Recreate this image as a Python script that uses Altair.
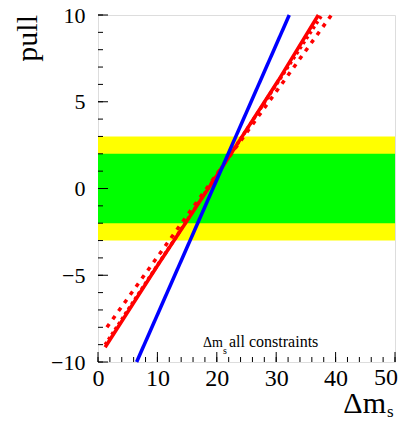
import altair as alt
import pandas as pd

# ---- data ----
blue_x = [6.5, 32.2]
blue_y = [-10.0, 10.0]

red_solid_x = [1.2, 10.0, 20.8, 30.4, 37.1]
red_solid_y = [-9.15, -4.45, 1.16, 6.25, 10.0]

red_dot_x = [1.2, 21.4, 37.7]
red_dot_y = [-9.0, 1.5, 10.0]

red_dash_x = [1.5, 21.4, 39.3]
red_dash_y = [-8.0, 1.5, 10.0]

band_lo = [-3, -2]
band_hi = [3, 2]
band_x0 = [0, 0]
band_x1 = [50, 50]
band_names = ["2 sigma", "1 sigma"]

x_labels = [0, 10, 20, 30, 40]
x_last_label = [50]
y_labels = [-10, -5, 0, 5, 10]
x_minor = list(range(0, 51, 2))
x_major = [0, 10, 20, 30, 40, 50]
y_minor = list(range(-10, 11, 1))
y_major = [-10, -5, 0, 5, 10]

W, H = 297, 347
FONT = "Liberation Serif"

xs = alt.Scale(domain=[0, 50], nice=False, zero=False)
ys = alt.Scale(domain=[-10, 10], nice=False, zero=False)

bands = pd.DataFrame({"x0": band_x0, "x1": band_x1, "lo": band_lo, "hi": band_hi, "band": band_names})
band_layer = alt.Chart(bands).mark_rect().encode(
    x=alt.X("x0:Q", scale=xs, axis=alt.Axis(values=x_labels, ticks=False, domain=False, grid=False,
                                             labelFont=FONT, labelFontSize=24, labelColor="black",
                                             labelPadding=4, labelOverlap=False, labelFlush=False, title=None)),
    x2="x1:Q",
    y=alt.Y("lo:Q", scale=ys, axis=alt.Axis(values=y_labels, ticks=False, domain=False, grid=False,
                                             labelFont=FONT, labelFontSize=22, labelColor="black",
                                             labelPadding=13, labelOverlap=False, labelFlush=False, title=None)),
    y2="hi:Q",
    color=alt.Color("band:N", scale=alt.Scale(domain=band_names, range=["#ffff00", "#00ff00"]), legend=None),
    order=alt.Order("band:N", sort="descending"),
)

last_label = alt.Chart(pd.DataFrame({"v": x_last_label})).mark_text(
    font=FONT, fontSize=24, align="center", baseline="top", dx=-9, dy=4, color="black"
).encode(x=alt.X("v:Q", scale=xs), y=alt.value(H), text="v:Q")


def line_layer(xv, yv, color, width, dash=None):
    df = pd.DataFrame({"x": xv, "y": yv})
    kw = dict(color=color, strokeWidth=width)
    if dash:
        kw["strokeDash"] = dash
    return alt.Chart(df).mark_line(**kw).encode(
        x=alt.X("x:Q", scale=xs), y=alt.Y("y:Q", scale=ys), order="x:Q"
    )


red_dash = line_layer(red_dash_x, red_dash_y, "#ff0000", 3.5, [4, 6])
red_dot = line_layer(red_dot_x, red_dot_y, "#ff0000", 3.5, [3, 3])
red_solid = line_layer(red_solid_x, red_solid_y, "#ff0000", 3.5)
blue = line_layer(blue_x, blue_y, "#0000ff", 3.5)


def xtick(vals, length):
    return alt.Chart(pd.DataFrame({"v": vals})).mark_rule(color="black", strokeWidth=1).encode(
        x=alt.X("v:Q", scale=xs), y=alt.value(H), y2=alt.value(H - length)
    )


def ytick(vals, length):
    return alt.Chart(pd.DataFrame({"v": vals})).mark_rule(color="black", strokeWidth=1).encode(
        y=alt.Y("v:Q", scale=ys), x=alt.value(0), x2=alt.value(length)
    )


def label(txt, x, y, size, align="left", baseline="alphabetic", angle=0):
    return alt.Chart(pd.DataFrame({"t": [txt]})).mark_text(
        font=FONT, fontSize=size, align=align, baseline=baseline, angle=angle, color="black"
    ).encode(text="t:N", x=alt.value(x), y=alt.value(y))


texts = [
    label("pull", -70, 0, 30, align="right", baseline="middle", angle=270),
    label("Δm", 288, 398, 30, align="right"),
    label("s", 289, 402, 17),
    label("Δm", 105, 332, 14),
    label("s", 125, 339, 10),
    label("all constraints", 131, 332, 16),
]

chart = alt.layer(
    band_layer, red_dash, red_dot, red_solid, blue,
    xtick(x_minor, 5), xtick(x_major, 10), ytick(y_minor, 5), ytick(y_major, 10),
    last_label, *texts
).properties(
    width=W, height=H,
    autosize=alt.AutoSizeParams(type="none"),
    padding={"left": 90, "top": 7, "right": 3, "bottom": 59},
).configure_view(stroke="black", strokeWidth=1).configure(background="white", font=FONT)

chart.save("out.html", embed_options={"renderer": "svg", "actions": False})
